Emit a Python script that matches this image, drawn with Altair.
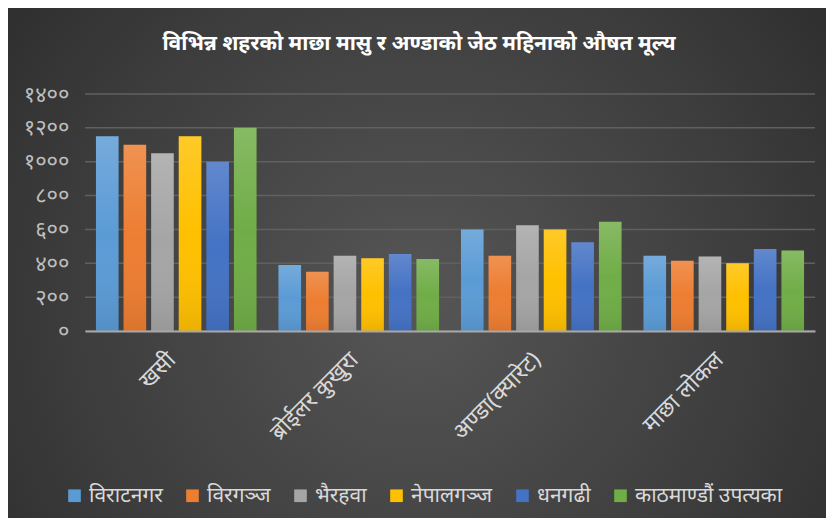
import altair as alt
import pandas as pd

categories = ["खसी", "ब्रोईलर कुखुरा", "अण्डा(क्यारेट)", "माछा लोकल"]
cities = ["विराटनगर", "विरगञ्ज", "भैरहवा", "नेपालगञ्ज", "धनगढी", "काठमाण्डौं उपत्यका"]
colors = ["#5B9BD5", "#ED7D31", "#A5A5A5", "#FFC000", "#4472C4", "#70AD47"]

v_biratnagar = [1150, 390, 600, 445]
v_birgunj = [1100, 350, 445, 415]
v_bhairahawa = [1050, 445, 625, 440]
v_nepalgunj = [1150, 430, 600, 400]
v_dhangadhi = [1000, 455, 525, 485]
v_kathmandu = [1200, 425, 645, 475]

y_tick_values = [0, 200, 400, 600, 800, 1000, 1200, 1400]
y_tick_labels = ["०", "२००", "४००", "६००", "८००", "१०००", "१२००", "१४००"]

title_text = "विभिन्न शहरको माछा मासु र अण्डाको जेठ महिनाको औषत मूल्य"

series = [v_biratnagar, v_birgunj, v_bhairahawa, v_nepalgunj, v_dhangadhi, v_kathmandu]
rows = []
for city, vals in zip(cities, series):
    for cat, v in zip(categories, vals):
        rows.append({"category": cat, "city": city, "value": v})
df = pd.DataFrame(rows)
grid_df = pd.DataFrame({"value": y_tick_values})

label_expr = "''"
for val, lab in reversed(list(zip(y_tick_values, y_tick_labels))):
    label_expr = f"datum.value == {val} ? '{lab}' : ({label_expr})"

W, H = 730, 237
PL, PT, PR, PB = 77, 86, 11, 187

FONT = "Noto Sans"

x_axis = alt.Axis(title=None, labelAngle=-45, labelFontSize=23, labelColor="#d9d9d9",
                  labelFont=FONT, ticks=False, domainColor="#a8a8a8", domainWidth=2,
                  labelPadding=17, labelOffset=-12, grid=False, zindex=1)
y_axis = alt.Axis(title=None, values=y_tick_values, labelExpr=label_expr, grid=False,
                  domain=False, ticks=False, labelFontSize=22, labelColor="#bfbfbf",
                  labelFont=FONT, labelPadding=16, labelOverlap=False, zindex=1)
x_scale = alt.Scale(paddingInner=0.12, paddingOuter=0.06)
y_scale = alt.Scale(domain=[0, 1400])

x_enc = alt.X("category:N", sort=categories, scale=x_scale, axis=x_axis)
xoff = alt.XOffset("city:N", sort=cities, scale=alt.Scale(paddingInner=0.18))
y_enc = alt.Y("value:Q", scale=y_scale, axis=y_axis)

bg = alt.Chart(alt.Data(values=[{"a": 1}])).mark_rect(
    color=alt.Gradient(
        gradient="radial",
        stops=[alt.GradientStop(color="#565656", offset=0),
               alt.GradientStop(color="#3c3c3c", offset=0.55),
               alt.GradientStop(color="#242424", offset=1)],
        x1=0.5, y1=0.55, r1=0, x2=0.5, y2=0.55, r2=0.78,
    )
).encode(x=alt.value(-PL), x2=alt.value(W + PR), y=alt.value(-PT), y2=alt.value(H + PB))

grid = alt.Chart(grid_df).mark_rule(color="#606060", strokeWidth=1.5).encode(y=y_enc)

bars = alt.Chart(df).mark_bar().encode(
    x=x_enc, xOffset=xoff, y=y_enc,
    color=alt.Color("city:N", sort=cities, scale=alt.Scale(domain=cities, range=colors),
                    legend=alt.Legend(title=None, orient="none", direction="horizontal",
                                      legendX=-21, legendY=391, symbolType="square",
                                      symbolSize=160, symbolStrokeWidth=0,
                                      labelFontSize=21, labelColor="#d9d9d9", labelFont=FONT,
                                      columnPadding=19, labelOffset=4)),
)

overlay = alt.Chart(df).mark_bar(
    color=alt.Gradient(
        gradient="linear",
        stops=[alt.GradientStop(color="rgba(255,255,255,0.16)", offset=0),
               alt.GradientStop(color="rgba(255,255,255,0)", offset=0.5),
               alt.GradientStop(color="rgba(0,0,0,0.08)", offset=1)],
        x1=0, x2=0, y1=0, y2=1,
    )
).encode(x=x_enc, xOffset=xoff, y=y_enc)

chart = alt.layer(bg, grid, bars, overlay).properties(
    width=W, height=H,
    padding={"left": PL, "top": PT, "right": PR, "bottom": PB},
    autosize=alt.AutoSizeParams(type="none"),
    title=alt.TitleParams(title_text, fontSize=21, color="#ffffff", font=FONT, fontWeight="bold",
                          anchor="middle", offset=0, dy=46, dx=-31),
).configure(background="#2b2b2b").configure_view(stroke=None)

chart.save("out.html", embed_options={"renderer": "svg", "actions": False})
